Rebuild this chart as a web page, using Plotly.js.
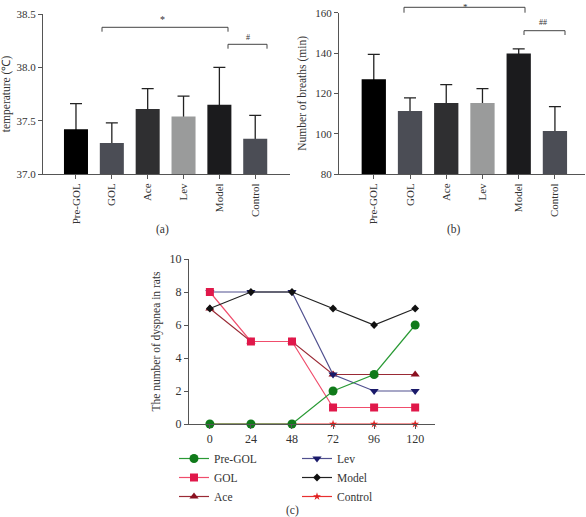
<!DOCTYPE html>
<html><head><meta charset="utf-8">
<script src="https://cdn.plot.ly/plotly-3.0.1.min.js"></script>
<style>html,body{margin:0;padding:0;background:#fff}#chart{width:586px;height:517px}</style>
</head><body><div id="chart"></div>
<script>
// ---- data ----
const groups = ['Pre-GOL','GOL','Ace','Lev','Model','Control'];
const tempMean = [37.42,37.29,37.61,37.54,37.65,37.33];
const tempErr  = [0.24,0.19,0.19,0.19,0.35,0.22];
const breathMean = [127,111.2,115.2,115.2,139.8,101.3];
const breathErr  = [12.3,6.6,9.1,7.1,2.3,12.1];
const hours = [0,24,48,72,96,120];
const dysPreGOL  = [0,0,0,2,3,6];
const dysGOL     = [8,5,5,1,1,1];
const dysAce     = [7,5,5,3,3,3];
const dysLev     = [8,8,8,3,2,2];
const dysModel   = [7,8,8,7,6,7];
const dysControl = [0,0,0,0,0,0];
const tempTicks = [37.0,37.5,38.0,38.5];
const breathTicks = [80,100,120,140,160];
const dysTicks = [0,2,4,6,8,10];

// ---- styles ----
const FONT = 'Liberation Serif, Times New Roman, serif';
const TXT = '#333';
const AX = '#555';
const barColors = ['#000000','#4b4d55','#2f2f31','#9a9b9b','#1b1b1d','#4b4d55'];

// error bars live on a transparent bar underneath; the real bar covers their lower half
function errTrace(y, err, floor, xa, ya) {
  return {
    type: 'bar', x: groups, y: y, xaxis: xa, yaxis: ya, width: 0.67,
    marker: {color: 'rgba(0,0,0,0)', line: {width: 0}},
    error_y: {type: 'data', array: err, arrayminus: y.map(v => v - floor), symmetric: false,
              color: '#222', thickness: 1.3, width: 6},
    showlegend: false, hoverinfo: 'skip'
  };
}
function barTrace(y, xa, ya) {
  return {
    type: 'bar', x: groups, y: y, xaxis: xa, yaxis: ya, width: 0.67,
    marker: {color: barColors, line: {width: 0}},
    showlegend: false, hoverinfo: 'x+y'
  };
}

function lineTrace(name, y, color, lineColor, symbol, size, legend, rank) {
  return {
    type: 'scatter', mode: 'lines+markers', name: name, x: hours, y: y,
    xaxis: 'x3', yaxis: 'y3', cliponaxis: false,
    line: {color: lineColor, width: 1.2},
    marker: {color: color, symbol: symbol, size: size},
    legend: legend, legendrank: rank
  };
}

const traces = [
  errTrace(tempMean, tempErr, 36, 'x', 'y'),
  barTrace(tempMean, 'x', 'y'),
  errTrace(breathMean, breathErr, 60, 'x2', 'y2'),
  barTrace(breathMean, 'x2', 'y2'),
  lineTrace('Control', dysControl, '#e02020', '#e83030', 'star', 6, 'legend2', 6),
  lineTrace('Ace', dysAce, '#8b1020', '#9a2a35', 'triangle-up', 8, 'legend', 3),
  lineTrace('Lev', dysLev, '#1a1a6a', '#50508f', 'triangle-down', 8, 'legend2', 4),
  lineTrace('GOL', dysGOL, '#e0184a', '#f04d6c', 'square', 8, 'legend', 2),
  lineTrace('Model', dysModel, '#111111', '#222222', 'diamond', 6, 'legend2', 5),
  lineTrace('Pre-GOL', dysPreGOL, '#107a1a', '#2a9a35', 'circle', 9, 'legend', 1)
];

const tickFont = {family: FONT, size: 11, color: TXT};
const catAxis = (dom, range) => ({
  domain: dom, range: range, type: 'category', tickangle: -90,
  showline: true, linecolor: AX, linewidth: 1, ticks: 'outside', ticklen: 4,
  tickcolor: AX, tickfont: tickFont, showgrid: false, zeroline: false, fixedrange: true
});
const valAxis = (dom, range, tv, fmt, title, anchor) => ({
  domain: dom, range: range, tickvals: tv, tickformat: fmt, anchor: anchor,
  showline: true, linecolor: AX, linewidth: 1, ticks: 'outside', ticklen: 4,
  tickcolor: AX, tickfont: tickFont, showgrid: false, zeroline: false,
  title: {text: title, font: {family: FONT, size: 11.5, color: TXT}, standoff: 6}
});

const W = 586, H = 517;
const px = v => v / W;
const py = v => 1 - v / H;

// brackets in paper space (pixel positions of the significance markers)
const bracket = (x0, x1, yTop, yBot) => ([
  {type: 'line', xref: 'paper', yref: 'paper', x0: px(x0), x1: px(x1), y0: py(yTop), y1: py(yTop), line: {color: '#444', width: 1}},
  {type: 'line', xref: 'paper', yref: 'paper', x0: px(x0), x1: px(x0), y0: py(yTop), y1: py(yBot), line: {color: '#444', width: 1}},
  {type: 'line', xref: 'paper', yref: 'paper', x0: px(x1), x1: px(x1), y0: py(yTop), y1: py(yBot), line: {color: '#444', width: 1}}
]);
const note = (x, y, text, size, ya) => ({xref: 'paper', yref: 'paper', x: px(x), y: py(y), xanchor: 'center', yanchor: ya || 'middle',
  text: text, showarrow: false, font: {size: size, family: FONT, color: TXT}});

const layout = {
  width: W, height: H, margin: {l: 0, r: 0, t: 0, b: 0},
  paper_bgcolor: '#fff', plot_bgcolor: '#fff', barmode: 'overlay',
  font: {family: FONT, color: TXT},
  xaxis: Object.assign(catAxis([px(43), px(290)], [-0.92, 5.97]), {anchor: 'y'}),
  yaxis: valAxis([py(174), py(14)], [37, 38.5], tempTicks, '.1f', 'temperature (℃)', 'x'),
  xaxis2: Object.assign(catAxis([px(339), px(585)], [-0.96, 5.83]), {anchor: 'y2'}),
  yaxis2: valAxis([py(174), py(12.7)], [80, 160], breathTicks, 'd', 'Number of breaths (min)', 'x2'),
  xaxis3: {domain: [px(189), px(435)], range: [-12.2, 131.6], tickvals: hours, anchor: 'y3',
           showline: true, linecolor: AX, linewidth: 1, ticks: 'outside', ticklen: 4, tickcolor: AX,
           tickfont: {family: FONT, size: 12, color: TXT}, showgrid: false, zeroline: false},
  yaxis3: Object.assign(valAxis([py(424), py(259)], [0, 10], dysTicks, 'd', 'The number of dyspnea in rats', 'x3'),
           {tickfont: {family: FONT, size: 12, color: TXT}}),
  legend: {x: px(174), y: py(444), xanchor: 'left', yanchor: 'top', orientation: 'v',
           font: {family: FONT, size: 11.5, color: TXT}, bgcolor: 'rgba(0,0,0,0)', traceorder: 'normal'},
  legend2: {x: px(297), y: py(444), xanchor: 'left', yanchor: 'top', orientation: 'v',
           font: {family: FONT, size: 11.5, color: TXT}, bgcolor: 'rgba(0,0,0,0)', traceorder: 'normal'},
  shapes: [].concat(
    bracket(102, 228, 27.3, 31.7),
    bracket(228, 267, 44.3, 48.7),
    bracket(404, 525, 7.3, 12.7),
    bracket(524, 565, 30.7, 35)
  ),
  annotations: [
    note(162, 19, '*', 10),
    note(248, 37, '#', 8),
    note(466, 0, '*', 9, 'top'),
    note(543, 23, '##', 8),
    note(162, 230, '(a)', 11.5),
    note(454, 230, '(b)', 11.5),
    note(292, 510, '(c)', 11.5)
  ]
};

Plotly.newPlot('chart', traces, layout, {displayModeBar: false, staticPlot: true});
</script>
</body></html>
